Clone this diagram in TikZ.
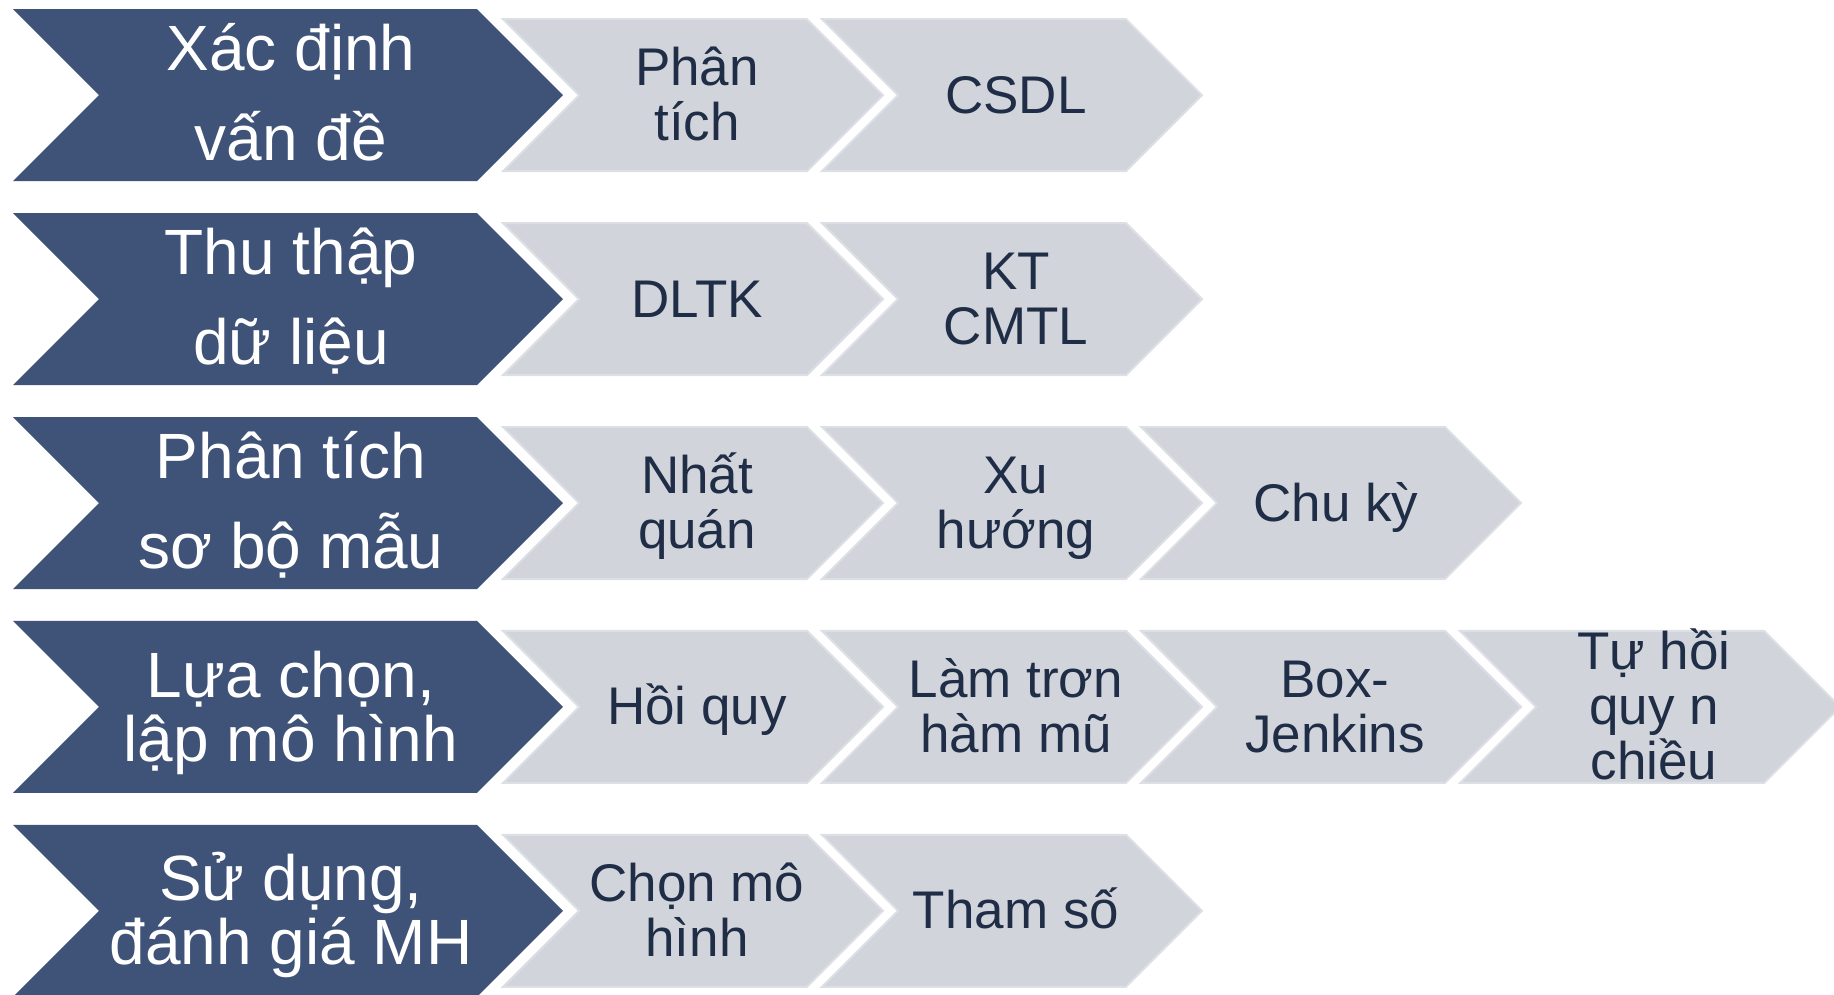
\documentclass[tikz,border=0pt]{standalone}
\usepackage{fontspec}
\setmainfont{Liberation Sans}
\definecolor{darkfill}{HTML}{3F5277}
\definecolor{greyfill}{HTML}{D1D5DB}
\definecolor{greyedge}{HTML}{DCDFE3}
\definecolor{greytext}{HTML}{1F2D46}
\tikzset{
  darkchev/.style={fill=darkfill},
  greychev/.style={fill=greyfill, draw=greyedge, line width=2pt, line join=miter},
  dtext/.style={text=white, font=\fontsize{64}{64}\selectfont, inner sep=0pt, anchor=base},
  gtext/.style={text=greytext, font=\fontsize{53}{55}\selectfont, inner sep=0pt, anchor=base},
}
% #1 mid y
\newcommand{\mkdark}[1]{%
  \path[darkchev] (13,#1-86) -- (477,#1-86) -- (563,#1) -- (477,#1+86) -- (13,#1+86) -- (99,#1) -- cycle;}
% #1 left x, #2 mid y
\newcommand{\mkgrey}[2]{%
  \path[greychev] (#1,#2-76) -- (#1+304,#2-76) -- (#1+380,#2) -- (#1+304,#2+76) -- (#1,#2+76) -- (#1+76,#2) -- cycle;}
\begin{document}
\begin{tikzpicture}[x=1pt,y=-1pt]
\useasboundingbox (0,0) rectangle (1834,994);
% ---- Row 1
\mkdark{95.2}
\mkgrey{503}{95.2}
\mkgrey{822}{95.2}
\node[dtext] (a1) at (291,70.2) {Xác định};
\node[dtext] (a2) at (291,160.2) {vấn đề};
\node[gtext] (a3) at (697,85.7) {Phân};
\node[gtext] (a4) at (697,140.7) {tích};
\node[gtext] (a5) at (1016,113.2) {CSDL};
% ---- Row 2
\mkdark{299.1}
\mkgrey{503}{299.1}
\mkgrey{822}{299.1}
\node[dtext] (b1) at (291,274.1) {Thu thập};
\node[dtext] (b2) at (291,364.1) {dữ liệu};
\node[gtext] (b3) at (697,317.1) {DLTK};
\node[gtext] (b4) at (1016,289.6) {KT};
\node[gtext] (b5) at (1016,344.6) {CMTL};
% ---- Row 3
\mkdark{503}
\mkgrey{503}{503}
\mkgrey{822}{503}
\mkgrey{1141}{503}
\node[dtext] (c1) at (291,478) {Phân tích};
\node[dtext] (c2) at (291,568) {sơ bộ mẫu};
\node[gtext] (c3) at (697,493.5) {Nhất};
\node[gtext] (c4) at (697,548.5) {quán};
\node[gtext] (c5) at (1016,493.5) {Xu};
\node[gtext] (c6) at (1016,548.5) {hướng};
\node[gtext] (c7) at (1336,521) {Chu kỳ};
% ---- Row 4
\mkdark{706.9}
\mkgrey{503}{706.9}
\mkgrey{822}{706.9}
\mkgrey{1141}{706.9}
\mkgrey{1460}{706.9}
\node[dtext] (d1) at (291,697) {Lựa chọn,};
\node[dtext] (d2) at (291,761) {lập mô hình};
\node[gtext] (d3) at (697,724.9) {Hồi quy};
\node[gtext] (d4) at (1016,697.4) {Làm trơn};
\node[gtext] (d5) at (1016,752.4) {hàm mũ};
\node[gtext] (d6) at (1335,697.4) {Box-};
\node[gtext] (d7) at (1335,752.4) {Jenkins};
\node[gtext] (d8) at (1654,669.9) {Tự hồi};
\node[gtext] (d9) at (1654,724.9) {quy n};
\node[gtext] (d10) at (1654,779.9) {chiều};
% ---- Row 5
\mkdark{910.8}
\mkgrey{503}{910.8}
\mkgrey{822}{910.8}
\node[dtext] (e1) at (291,900.8) {Sử dụng,};
\node[dtext] (e2) at (291,964.8) {đánh giá MH};
\node[gtext] (e3) at (697,901.3) {Chọn mô};
\node[gtext] (e4) at (697,956.3) {hình};
\node[gtext] (e5) at (1016,928.8) {Tham số};
\end{tikzpicture}
\end{document}
